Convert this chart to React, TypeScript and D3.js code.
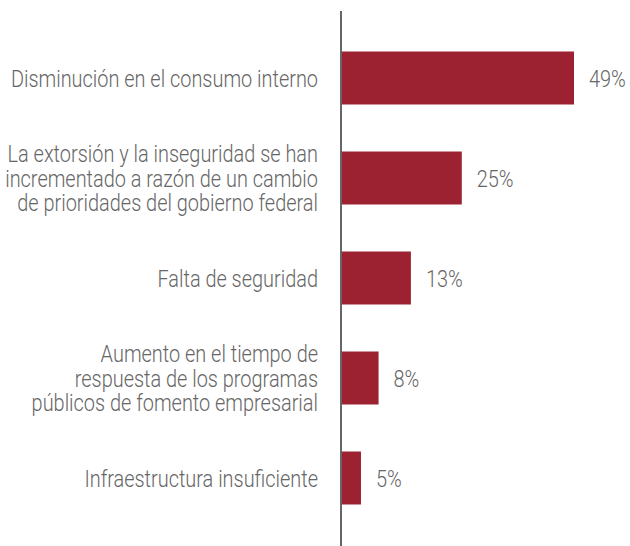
import React from "react";
import { scaleLinear, scaleBand } from "d3";

const categories = [
  "Disminución en el consumo interno",
  "La extorsión y la inseguridad se han incrementado a razón de un cambio de prioridades del gobierno federal",
  "Falta de seguridad",
  "Aumento en el tiempo de respuesta de los programas públicos de fomento empresarial",
  "Infraestructura insuficiente",
];
const labelLines = [
  ["Disminución en el consumo interno"],
  ["La extorsión y la inseguridad se han", "incrementado a razón de un cambio", "de prioridades del gobierno federal"],
  ["Falta de seguridad"],
  ["Aumento en el tiempo de", "respuesta de los programas", "públicos de fomento empresarial"],
  ["Infraestructura insuficiente"],
];
// bar lengths as drawn in the picture (not exactly proportional to the printed labels)
const barValues = [49, 25.4, 14.7, 7.9, 4.2];
const valueLabels = ["49%", "25%", "13%", "8%", "5%"];

const App = () => {
  const width = 630;
  const height = 546;
  const axisX = 341;
  const fontSize = 24;
  const lineH = 24.5;
  const sx = 0.83; // condensed look

  const x = scaleLinear().domain([0, 49]).range([axisX, 574]);
  const y = scaleBand()
    .domain(categories)
    .range([28, 528])
    .paddingInner(0.47)
    .paddingOuter(0.235);

  const textStyle = {
    fontFamily: "Roboto, sans-serif",
    fontWeight: 300,
    fontSize: fontSize,
    fill: "#666",
  };

  return (
    <svg
      width={width}
      height={height}
      style={{ position: "absolute", left: 0, top: 0, background: "#fff" }}
    >
      {categories.map((c, i) => {
        const cy = y(c)! + y.bandwidth() / 2;
        const lines = labelLines[i];
        const first = cy - ((lines.length - 1) * lineH) / 2;
        return (
          <g key={c}>
            <rect
              x={x(0)}
              y={y(c)}
              width={x(barValues[i]) - x(0)}
              height={y.bandwidth()}
              fill="#9c2232"
            />
            <g transform={`translate(${x(barValues[i]) + 15},0) scale(${sx},1)`}>
              <text y={cy + fontSize * 0.355} style={textStyle}>
                {valueLabels[i]}
              </text>
            </g>
            <g transform={`translate(${axisX - 23},0) scale(${sx},1)`}>
              {lines.map((l, j) => (
                <text
                  key={j}
                  y={first + j * lineH + fontSize * 0.355}
                  textAnchor="end"
                  style={textStyle}
                >
                  {l}
                </text>
              ))}
            </g>
          </g>
        );
      })}
      <line x1={axisX} x2={axisX} y1={11} y2={height} stroke="#666" strokeWidth={2} />
    </svg>
  );
};

export default App;
